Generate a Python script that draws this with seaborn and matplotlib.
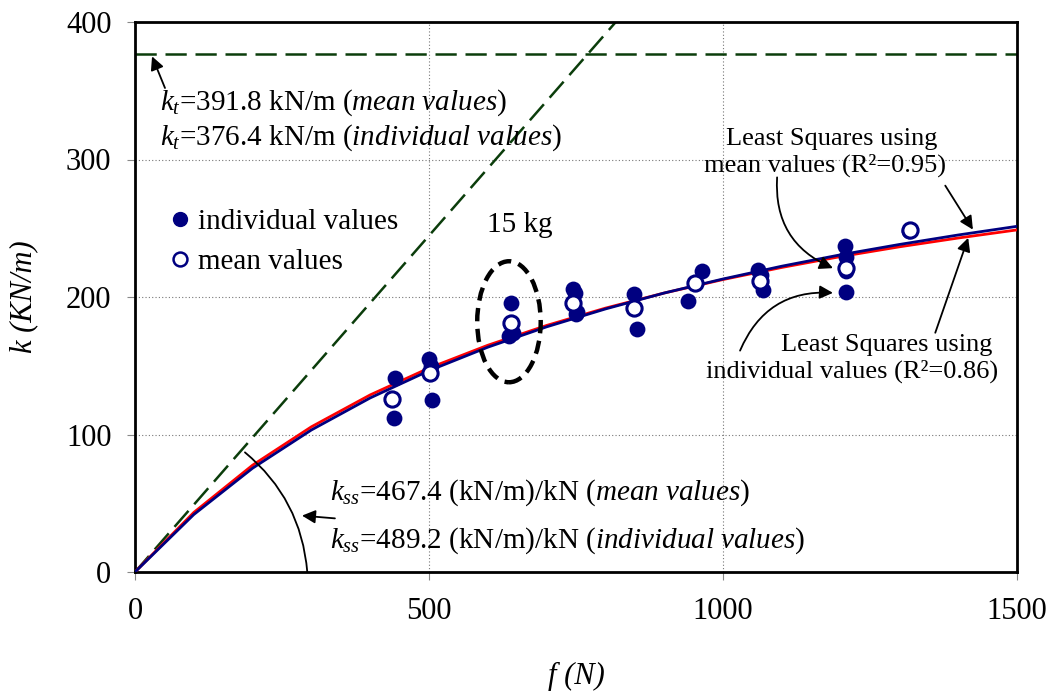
import numpy as np
import pandas as pd
import matplotlib
matplotlib.use("Agg")
import matplotlib.pyplot as plt
import seaborn as sns
from matplotlib.patches import Ellipse
from matplotlib.lines import Line2D

# ---------------- data ----------------
f_ind = [440, 443, 500, 503, 505, 640, 643, 636, 745, 748, 750, 752,
         848, 853, 940, 964, 1060, 1065, 1068, 1208, 1210, 1210, 1210, 1316]
k_ind = [112, 141, 155, 150, 125, 196, 174, 172, 206, 203, 188, 189,
         202, 177, 197, 219, 220, 216, 205, 237, 229, 219, 204, 248]

f_mean = [437, 502, 639, 745, 849, 952, 1063, 1209, 1318]
k_mean = [126, 145, 181, 196, 192, 210, 212, 221, 249]

# least-squares curves
f_fit = [0, 100, 200, 300, 400, 500, 600, 700, 800, 900, 1000, 1100, 1200, 1300, 1400, 1500]
k_fit_mean = [0, 41.8, 75.5, 103.3, 126.6, 146.4, 163.5, 178.3, 191.3, 202.9,
              213.1, 222.4, 230.7, 238.2, 245.1, 251.4]
k_fit_ind = [0, 43.3, 77.7, 105.6, 128.8, 148.3, 164.9, 179.3, 191.9, 202.9,
             212.7, 221.5, 229.4, 236.5, 242.9, 248.8]

kt_ind = 376.4          # kN/m  (horizontal asymptote drawn)
kss_ind = 489.2         # (kN/m)/kN (initial slope drawn)
f_ss = [0, 1500]

x_ticks = [0, 500, 1000, 1500]
y_ticks = [0, 100, 200, 300, 400]

# ---------------- style ----------------
sns.set_theme(style="white")
plt.rcParams['font.family'] = ['Liberation Serif', 'DejaVu Serif']
plt.rcParams['mathtext.fontset'] = 'custom'
plt.rcParams['mathtext.rm'] = 'Liberation Serif'
plt.rcParams['mathtext.it'] = 'Liberation Serif:italic'
plt.rcParams['text.color'] = 'black'
plt.rcParams['axes.labelcolor'] = 'black'
plt.rcParams['xtick.labelcolor'] = 'black'
plt.rcParams['ytick.labelcolor'] = 'black'

NAVY = '#000080'
GREEN = '#0B3D0B'
FS = 21
FS_LS = 19

fig = plt.figure(figsize=(10.6, 6.95), dpi=100)
ax = fig.add_axes([135/1060, 1-572/695, 882/1060, 550/695])

# fitted curves
df_fit = pd.DataFrame({'f': f_fit, 'mean': k_fit_mean, 'ind': k_fit_ind})
sns.lineplot(data=df_fit, x='f', y='ind', color='red', lw=2.0, ax=ax, zorder=3)
sns.lineplot(data=df_fit, x='f', y='mean', color=NAVY, lw=2.0, ax=ax, zorder=3)

# tangent line and asymptote
k_ss = [kss_ind * v / 1000 for v in f_ss]
ax.plot(f_ss, k_ss, color=GREEN, lw=1.8, dashes=(8.5, 3.5), zorder=2)
ax.axhline(kt_ind, color=GREEN, lw=1.8, dashes=(8.5, 3.5), zorder=2)

# points
df_ind = pd.DataFrame({'f': f_ind, 'k': k_ind})
df_mean = pd.DataFrame({'f': f_mean, 'k': k_mean})
sns.scatterplot(data=df_ind, x='f', y='k', color=NAVY, s=130, edgecolor=NAVY,
                linewidth=0, ax=ax, zorder=4)
sns.scatterplot(data=df_mean, x='f', y='k', facecolor='white', edgecolor=NAVY,
                s=120, linewidth=2.2, ax=ax, zorder=5)

# ellipse around 15 kg group
ax.add_patch(Ellipse((636, 182), width=108, height=88, fill=False, edgecolor='black',
                     lw=3.2, linestyle=(0, (3, 1.7)), zorder=6))
ax.text(655, 252, '15 kg', fontsize=FS, ha='center', va='center')

# axes
ax.set_xlim(0, 1500)
ax.set_ylim(0, 400)
ax.set_xticks(x_ticks)
ax.set_yticks(y_ticks)
ax.tick_params(axis='both', labelsize=22, direction='out', length=6, width=0.8,
               color='#888888', bottom=True, left=True)
ax.tick_params(axis='x', pad=12)
ax.tick_params(axis='y', pad=11)
for sp in ax.spines.values():
    sp.set_color('black')
    sp.set_linewidth(2.0)
ax.grid(True, color='#777777', linestyle=(0, (1, 2)), lw=0.8)
ax.set_xlabel('f (N)', fontsize=22, style='italic', labelpad=26)
ax.set_ylabel('k (KN/m)', fontsize=22, style='italic', labelpad=20)
ax.set_axisbelow(True)

# legend
handles = [Line2D([], [], marker='o', ls='', color=NAVY, markersize=10),
           Line2D([], [], marker='o', ls='', markerfacecolor='white',
                  markeredgecolor=NAVY, markeredgewidth=1.8, markersize=10)]
ax.legend(handles, ['individual values', 'mean values'], loc='center left',
          bbox_to_anchor=(0.005, 0.60), frameon=False, fontsize=FS,
          handletextpad=0.1, labelspacing=0.45, handlelength=1.0)

# annotations
ax.text(42, 341, r'$k_t$=391.8 kN/m ($\it{mean\ values}$)', fontsize=FS, va='center')
ax.text(42, 316, r'$k_t$=376.4 kN/m ($\it{individual\ values}$)', fontsize=FS, va='center')
arrow = dict(arrowstyle='-|>', color='black', lw=1.3, mutation_scale=20, shrinkA=0, shrinkB=0)
ax.annotate('', xy=(29, 375), xytext=(51, 352), arrowprops=arrow)

ax.text(332, 58, r'$k_{ss}$=467.4 (kN/m)/kN ($\it{mean\ values}$)', fontsize=FS, va='center')
ax.text(332, 23, r'$k_{ss}$=489.2 (kN/m)/kN ($\it{individual\ values}$)', fontsize=FS, va='center')
ax.annotate('', xy=(284, 41), xytext=(340, 39), arrowprops=arrow)
ax.annotate('', xy=(293, 0), xytext=(187, 87),
            arrowprops=dict(arrowstyle='-', color='black', lw=1.3,
                            connectionstyle='arc3,rad=-0.21', shrinkA=0, shrinkB=0))

ax.text(1184, 315, 'Least Squares using', fontsize=FS_LS, ha='center', va='center')
ax.text(1173, 296, 'mean values (R²=0.95)', fontsize=FS_LS, ha='center', va='center')
ax.annotate('', xy=(1187, 221), xytext=(1092, 287),
            arrowprops=dict(arrow, connectionstyle='arc3,rad=0.35'))
ax.annotate('', xy=(1425, 249), xytext=(1378, 281), arrowprops=arrow)

ax.text(1279, 165, 'Least Squares using', fontsize=FS_LS, ha='center', va='center')
ax.text(1219, 146, 'individual values (R²=0.86)', fontsize=FS_LS, ha='center', va='center')
ax.annotate('', xy=(1187, 203), xytext=(1029, 161),
            arrowprops=dict(arrow, connectionstyle='arc3,rad=-0.35'))
ax.annotate('', xy=(1417, 243), xytext=(1361, 174), arrowprops=arrow)

fig.savefig('out.png', dpi=100)
